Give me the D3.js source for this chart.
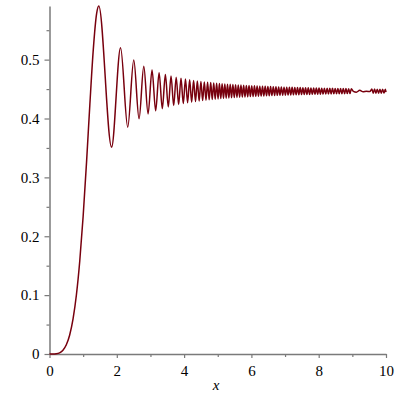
<!DOCTYPE html>
<html>
<head>
<meta charset="utf-8">
<script src="https://cdn.jsdelivr.net/npm/d3@7"></script>
<style>
  body { margin: 0; background: #fff; }
</style>
</head>
<body>
<div id="chart"></div>
<script>
// curve: the rise, then the turning points, then the dense tail
var riseX = [0, 0.1, 0.2, 0.3, 0.4, 0.5, 0.6, 0.7, 0.8, 0.9, 1.0, 1.1, 1.2, 1.3, 1.4];
var riseY = [0, 0.00003, 0.0004, 0.002, 0.0064, 0.0156, 0.0323, 0.0596, 0.1006, 0.1583, 0.2339, 0.3251, 0.4244, 0.5162, 0.5781];

var peakX = [1.4646, 1.8453, 2.1123, 2.3248, 2.5044, 2.6614, 2.8020, 2.9295, 3.0468, 3.1553,
  3.2571, 3.3523, 3.4434, 3.5301, 3.6123, 3.6905, 3.7653, 3.8371, 3.9081, 3.9755,
  4.0407, 4.1039, 4.1651, 4.2246, 4.2825, 4.3388, 4.3937, 4.4474, 4.4997, 4.5508,
  4.6008, 4.6499, 4.6978, 4.7448, 4.7908, 4.8360, 4.8804, 4.9238, 4.9666, 5.0089];
var peakY = [0.5911, 0.3514, 0.5203, 0.3853, 0.4994, 0.3996, 0.4889, 0.4077, 0.4824, 0.4130,
  0.4779, 0.4168, 0.4746, 0.4197, 0.4720, 0.4220, 0.4700, 0.4239, 0.4683, 0.4254,
  0.4669, 0.4267, 0.4657, 0.4278, 0.4647, 0.4288, 0.4638, 0.4296, 0.4630, 0.4304,
  0.4622, 0.4311, 0.4616, 0.4317, 0.4610, 0.4322, 0.4605, 0.4327, 0.4600, 0.4332];

var tailX = [
  5.05, 5.09, 5.13, 5.17, 5.21, 5.25, 5.29, 5.33, 5.37, 5.41,
  5.45, 5.49, 5.53, 5.57, 5.61, 5.65, 5.69, 5.73, 5.77, 5.81,
  5.85, 5.89, 5.93, 5.97, 6.01, 6.05, 6.09, 6.13, 6.17, 6.21,
  6.25, 6.29, 6.33, 6.37, 6.41, 6.45, 6.49, 6.53, 6.57, 6.61,
  6.65, 6.69, 6.73, 6.77, 6.81, 6.85, 6.89, 6.93, 6.97, 7.01,
  7.05, 7.09, 7.13, 7.17, 7.21, 7.25, 7.29, 7.33, 7.37, 7.41,
  7.45, 7.49, 7.53, 7.57, 7.61, 7.65, 7.69, 7.73, 7.77, 7.81,
  7.85, 7.89, 7.93, 7.97, 8.01, 8.05, 8.09, 8.13, 8.17, 8.21,
  8.25, 8.29, 8.33, 8.37, 8.41, 8.45, 8.49, 8.53, 8.57, 8.61,
  8.65, 8.69, 8.73, 8.77, 8.81, 8.85, 8.89, 8.93, 8.97,
  9.03, 9.12, 9.22, 9.32, 9.42, 9.52,
  9.58, 9.62, 9.66, 9.70, 9.74, 9.78, 9.82, 9.86, 9.90, 9.94, 9.98, 10.0];
var tailY = [
  0.4594, 0.4338, 0.4591, 0.4342, 0.4588, 0.4345, 0.4584, 0.4349, 0.4581, 0.4352,
  0.4577, 0.4355, 0.4574, 0.4358, 0.4571, 0.4361, 0.4568, 0.4364, 0.4565, 0.4366,
  0.4562, 0.4369, 0.4560, 0.4372, 0.4557, 0.4374, 0.4555, 0.4377, 0.4553, 0.4379,
  0.4550, 0.4381, 0.4548, 0.4383, 0.4546, 0.4385, 0.4544, 0.4387, 0.4542, 0.4389,
  0.4540, 0.4391, 0.4538, 0.4393, 0.4537, 0.4394, 0.4535, 0.4396, 0.4533, 0.4397,
  0.4532, 0.4399, 0.4530, 0.4400, 0.4529, 0.4402, 0.4527, 0.4403, 0.4526, 0.4405,
  0.4525, 0.4406, 0.4523, 0.4407, 0.4522, 0.4408, 0.4521, 0.4409, 0.4520, 0.4411,
  0.4519, 0.4412, 0.4518, 0.4413, 0.4517, 0.4414, 0.4516, 0.4415, 0.4515, 0.4416,
  0.4514, 0.4417, 0.4513, 0.4418, 0.4512, 0.4419, 0.4511, 0.4420, 0.4510, 0.4420,
  0.4509, 0.4421, 0.4508, 0.4422, 0.4508, 0.4423, 0.4507, 0.4423, 0.4506,
  0.4462, 0.4448, 0.4478, 0.4455, 0.4463, 0.4458,
  0.4500, 0.4430, 0.4500, 0.4430, 0.4499, 0.4431, 0.4499, 0.4431, 0.4498, 0.4432, 0.4498, 0.4447];

var xTicks = [0, 2, 4, 6, 8, 10];
var xMinor = [1, 3, 5, 7, 9];
var yTicks = [0, 0.1, 0.2, 0.3, 0.4, 0.5];
var yMinor = [0.05, 0.15, 0.25, 0.35, 0.45, 0.55];
var xTitle = "x";

var width = 400, height = 400;
var axisColor = "#7a7a7a";
var lineColor = "#78000e";
var serif = "'Liberation Serif', 'Times New Roman', serif";

var svg = d3.select("#chart").append("svg")
  .attr("width", width).attr("height", height)
  .style("background-color", "#fff");

var x = d3.scaleLinear().domain([0, 10]).range([49.5, 386]);
var y = d3.scaleLinear().domain([0, 0.5911]).range([354, 6]);

// axes
var gx = svg.append("g").attr("transform", "translate(0,354)")
  .call(d3.axisBottom(x).tickValues(xTicks).tickSize(4).tickPadding(7).tickSizeOuter(0).tickFormat(d3.format("d")));
var gxm = svg.append("g").attr("transform", "translate(0,354)")
  .call(d3.axisBottom(x).tickValues(xMinor).tickSize(3).tickSizeOuter(0).tickFormat(""));
var gy = svg.append("g").attr("transform", "translate(49.5,0)")
  .call(d3.axisLeft(y).tickValues(yTicks).tickSize(5).tickPadding(5).tickSizeOuter(0)
    .tickFormat(function (d) { return d === 0 ? "0" : d3.format(".1f")(d); }));
var gym = svg.append("g").attr("transform", "translate(49.5,0)")
  .call(d3.axisLeft(y).tickValues(yMinor).tickSize(3).tickSizeOuter(0).tickFormat(""));

[gx, gxm, gy, gym].forEach(function (g) {
  g.attr("font-family", null).attr("font-size", null);
  g.select(".domain").attr("stroke", axisColor).attr("stroke-width", 1.5);
  g.selectAll(".tick line").attr("stroke", axisColor).attr("stroke-width", 1.2);
  g.selectAll(".tick text").attr("fill", "#000")
    .style("font-family", serif).style("font-size", "15px");
});
gxm.select(".domain").remove();
gym.select(".domain").remove();

svg.append("text")
  .attr("x", 216).attr("y", 390)
  .attr("text-anchor", "middle")
  .style("font-family", serif)
  .style("font-size", "15px")
  .style("font-style", "italic")
  .text(xTitle);

// curve
var pts = [];
riseX.forEach(function (v, i) { pts.push([v, riseY[i]]); });
peakX.forEach(function (v, i) { pts.push([v, peakY[i]]); });
tailX.forEach(function (v, i) { pts.push([v, tailY[i]]); });

var line = d3.line()
  .x(function (d) { return x(d[0]); })
  .y(function (d) { return y(d[1]); })
  .curve(d3.curveMonotoneX);

svg.append("path")
  .datum(pts)
  .attr("d", line)
  .attr("fill", "none")
  .attr("stroke", lineColor)
  .attr("stroke-width", 1.5);
</script>
</body>
</html>
